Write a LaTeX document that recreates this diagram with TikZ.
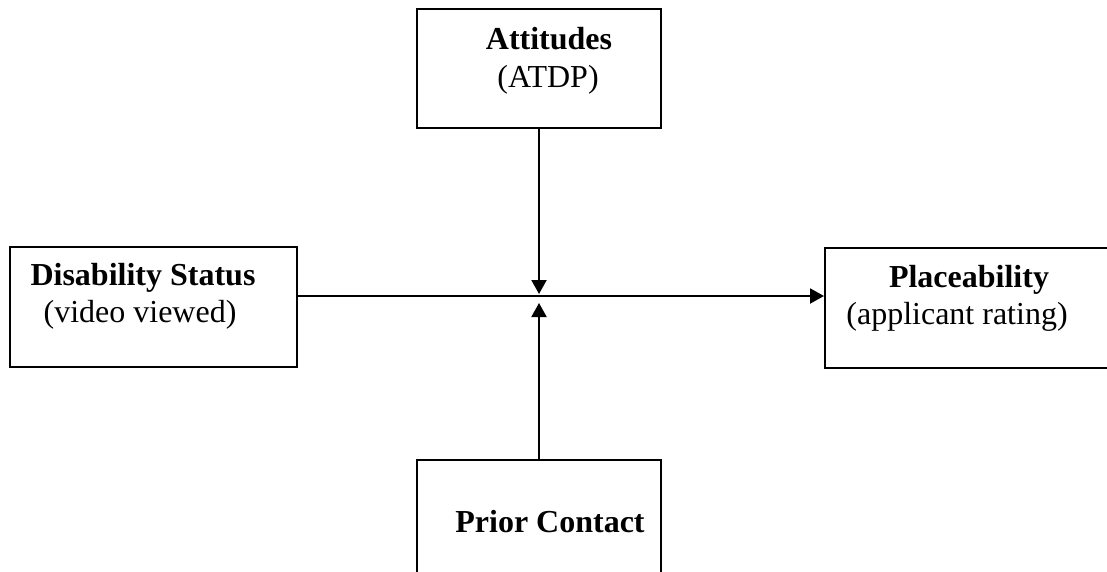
\documentclass[tikz,border=0pt]{standalone}
\usepackage{fontspec}
\setmainfont{Liberation Serif}
\usetikzlibrary{arrows.meta}
\begin{document}
\begin{tikzpicture}[x=1pt,y=-1pt,
  box/.style={draw=black,line width=2pt,rectangle,inner sep=0pt},
  lbl/.style={font=\fontsize{32}{38}\selectfont,inner sep=0pt,anchor=base},
  conn/.style={line width=2pt,-{Triangle[length=14pt,width=15pt]}}]
\useasboundingbox (0,0) rectangle (1107,572);
\clip (0,0) rectangle (1107,572);
\node[box,minimum width=244pt,minimum height=119pt] (att) at (539,68.5) {};
\node[box,minimum width=287pt,minimum height=120pt] (dis) at (153.5,307) {};
\node[box,minimum width=295pt,minimum height=120pt] (pla) at (972.5,308) {};
\node[box,minimum width=244pt,minimum height=140pt] (pc) at (539,530) {};
\node[lbl] (attA) at (549,50) {\textbf{Attitudes}};
\node[lbl] (attB) at (548,88) {(ATDP)};
\node[lbl] (disA) at (143,285) {\textbf{Disability Status}};
\node[lbl] (disB) at (140,322) {(video viewed)};
\node[lbl] (plaA) at (969,287) {\textbf{Placeability}};
\node[lbl] (plaB) at (957,324) {(applicant rating)};
\node[lbl] (pcA) at (550,532) {\textbf{Prior Contact}};
\coordinate (m) at (539,296);
\coordinate (mtop) at (539,294);
\coordinate (mbot) at (539,303);
\draw[conn] (dis.east |- m) -- (pla.west |- m);
\draw[conn] (att.south -| m) -- (mtop);
\draw[conn] (pc.north -| m) -- (mbot);
\end{tikzpicture}
\end{document}
